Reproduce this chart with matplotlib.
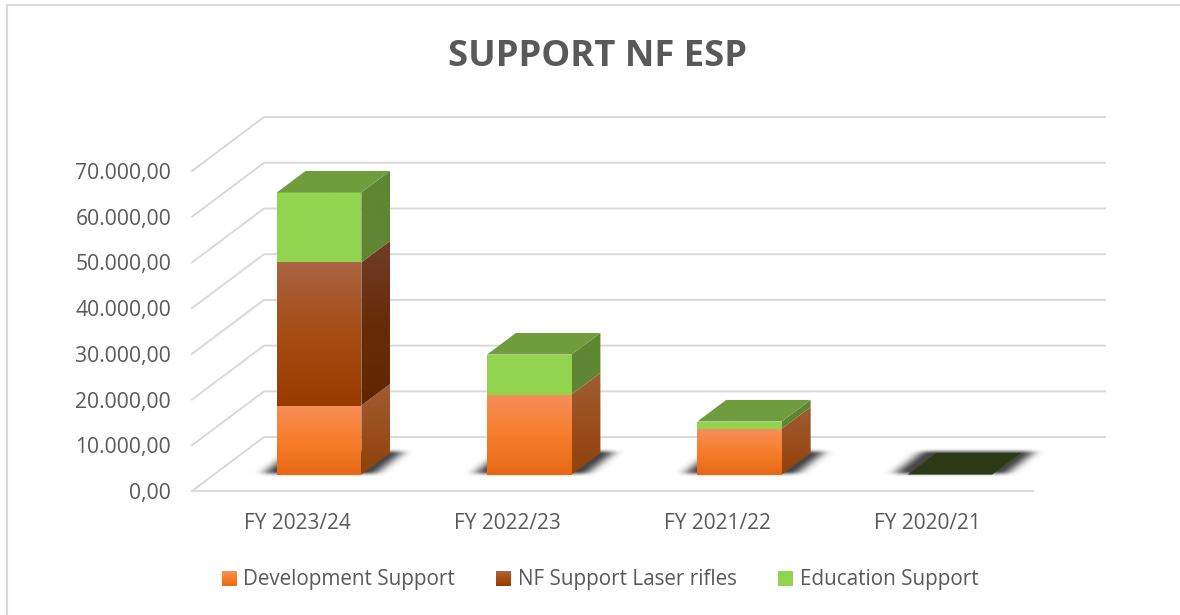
import numpy as np
import matplotlib
matplotlib.use('Agg')
import matplotlib.pyplot as plt
from matplotlib.colors import to_rgb
from matplotlib.legend_handler import HandlerBase
from matplotlib.patches import Patch, Polygon, Rectangle

plt.rcParams['font.family'] = ['Open Sans', 'DejaVu Sans']

categories = ['FY 2023/24', 'FY 2022/23', 'FY 2021/22', 'FY 2020/21']
series_names = ['Development Support', 'NF Support Laser rifles', 'Education Support']
development = [15100, 17500, 10050, 0]
laser_rifles = [31300, 0, 0, 0]
education = [15300, 8750, 1550, 0]
y_ticks = [0, 10000, 20000, 30000, 40000, 50000, 60000, 70000]

# colours, top to bottom of each face
front_colors = [['#F58E58', '#F87D2A', '#E66A16'],
                ['#AB6442', '#A54C14', '#993B00'],
                ['#92D450', '#92D450', '#92D450']]
side_colors = [['#A05C34', '#9A4E1C', '#91420C'],
               ['#713C28', '#682C08', '#622700'],
               ['#5F8632', '#5F8632', '#5F8632']]
top_color = '#6F9C3D'
empty_color = '#2B3A14'
grid_color = '#D9D9D9'
text_color = '#595959'

# fake 3D: one unit of depth moves a point right and up
depth_x = 0.3425
depth_y = 11800
bar_width = 0.402
bar_front = 0.305
bar_depth = 0.40


def project(x, value, depth):
    return (x + depth * depth_x, value + depth * depth_y)


def gradient_face(ax, corners, stops):
    # vertical gradient clipped to a polygon
    corners = np.array(corners)
    ramp = np.linspace(0, 1, 64)
    rgb = np.array([to_rgb(c) for c in stops])
    pos = np.linspace(0, 1, len(stops))
    img = np.stack([np.interp(ramp, pos, rgb[:, i]) for i in range(3)], axis=1)[:, None, :]
    extent = (corners[:, 0].min(), corners[:, 0].max(), corners[:, 1].min(), corners[:, 1].max())
    im = ax.imshow(img, extent=extent, origin='upper', aspect='auto', zorder=4, interpolation='bilinear')
    im.set_clip_path(Polygon(corners, transform=ax.transData))


def blur(values, sigma, axis):
    size = int(3 * sigma)
    kernel = np.exp(-0.5 * (np.arange(-size, size + 1) / sigma) ** 2)
    kernel = kernel / kernel.sum()
    return np.apply_along_axis(lambda row: np.convolve(row, kernel, mode='same'), axis, values)


def draw_shadow(ax, x0, x1):
    # soft floor shadow: blurred mask of the bar footprint, a bit wider than the bar
    grow = 0.065
    low = project(0, 0, bar_front)[1]
    high = project(0, 0, bar_front + bar_depth)[1] + 350
    left = x0 + bar_front * depth_x
    right = x1 + (bar_front + bar_depth) * depth_x
    xs = np.linspace(left - 0.25, right + 0.25, 260)
    ys = np.linspace(low - 1500, high + 1500, 50)
    gx, gy = np.meshgrid(xs, ys)
    shift = (gy - low) / (high - low) * bar_depth * depth_x
    mask = ((gy >= low) & (gy <= high) & (gx - shift >= left - grow)
            & (gx - shift <= left + bar_width + grow)).astype(float)
    step_x = (xs[1] - xs[0]) * 841 / 4
    step_y = (ys[1] - ys[0]) * 320 / 70000
    soft = blur(blur(mask, 6 / step_x, 1), 1.6 / step_y, 0)
    img = np.zeros(mask.shape + (4,))
    img[..., 3] = np.clip(soft * 1.1, 0, 1) * 0.72
    ax.imshow(img, extent=(xs[0], xs[-1], ys[0], ys[-1]), origin='lower', aspect='auto', zorder=3,
              interpolation='bilinear', clip_on=False)


class GradientHandler(HandlerBase):
    # legend swatch with the same gradient as the bar fronts
    def __init__(self, stops):
        super().__init__()
        self.stops = stops

    def create_artists(self, legend, orig_handle, xdescent, ydescent, width, height, fontsize, trans):
        rgb = np.array([to_rgb(c) for c in self.stops])
        pos = np.linspace(0, 1, len(self.stops))
        side = 15 * 0.72
        artists = []
        for i in range(15):
            f = i / 14
            col = [np.interp(f, pos, rgb[:, c]) for c in range(3)]
            artists.append(Rectangle((width - side, height / 2 + side / 2 - (i + 1) * side / 15), side, side / 15 + 0.1,
                                     fc=col, ec='none', transform=trans))
        return artists


fig = plt.figure(figsize=(11.8, 6.15), dpi=100)
ax = fig.add_axes([192 / 1180, (615 - 491) / 615, 841 / 1180, 320 / 615])
ax.set_xlim(-0.5, 3.5)
ax.set_ylim(0, 70000)
ax.set_autoscale_on(False)

# grid on the back wall and the left wall
for v in y_ticks:
    start = project(-0.5, v, 0)
    corner = project(-0.5, v, 1)
    end = project(3.5, v, 1)
    ax.plot([start[0], corner[0], end[0]], [start[1], corner[1], end[1]],
            color=grid_color, lw=1.4, clip_on=False, zorder=1, solid_joinstyle='miter')
ax.plot([-0.5, 3.5], [0, 0], color=grid_color, lw=1.4, clip_on=False, zorder=1)

# stacked bars
series = [development, laser_rifles, education]
for i in range(len(categories)):
    x0 = i - bar_width / 2
    x1 = i + bar_width / 2
    draw_shadow(ax, x0, x1)
    bottom = 0
    for s, values in enumerate(series):
        v = values[i]
        if v == 0:
            continue
        top = bottom + v
        fl = project(x0, bottom, bar_front)
        fr = project(x1, bottom, bar_front)
        tl = project(x0, top, bar_front)
        tr = project(x1, top, bar_front)
        br = project(x1, bottom, bar_front + bar_depth)
        brt = project(x1, top, bar_front + bar_depth)
        gradient_face(ax, [fl, fr, tr, tl], front_colors[s])
        gradient_face(ax, [fr, br, brt, tr], side_colors[s])
        bottom = top
    cap = top_color if bottom > 0 else empty_color
    ax.add_patch(Polygon([project(x0, bottom, bar_front), project(x1, bottom, bar_front),
                          project(x1, bottom, bar_front + bar_depth), project(x0, bottom, bar_front + bar_depth)],
                         fc=cap, ec='none', zorder=5))

for spine in ax.spines.values():
    spine.set_visible(False)
ax.set_xticks(range(len(categories)))
ax.set_xticklabels(categories)
ax.set_yticks(y_ticks)
ax.set_yticklabels([f'{v:,.2f}'.replace(',', 'X').replace('.', ',').replace('X', '.') for v in y_ticks])
ax.tick_params(axis='y', length=0, pad=15, labelsize=15.2, labelcolor=text_color)
ax.tick_params(axis='x', length=0, pad=16, labelsize=15, labelcolor=text_color)

fig.text(597 / 1180, 1 - 57 / 615, 'SUPPORT NF ESP', ha='center', va='center',
         fontsize=26.2, fontweight='bold', color=text_color)

handles = [Patch(label=name) for name in series_names]
ax.legend(handles=handles, ncols=3, frameon=False, loc='center', bbox_to_anchor=(595 / 1180, 1 - 580 / 615),
          bbox_transform=fig.transFigure, fontsize=14.9, labelcolor=text_color,
          handlelength=1.2, handletextpad=0.3, columnspacing=1.55,
          handler_map={h: GradientHandler(front_colors[k]) for k, h in enumerate(handles)})

# chart frame
fig.add_artist(plt.Line2D([7 / 1180, 7 / 1180, 1], [0, 1 - 4.5 / 615, 1 - 4.5 / 615],
                          color=grid_color, lw=1.5))

fig.savefig('out.png', dpi=100)
